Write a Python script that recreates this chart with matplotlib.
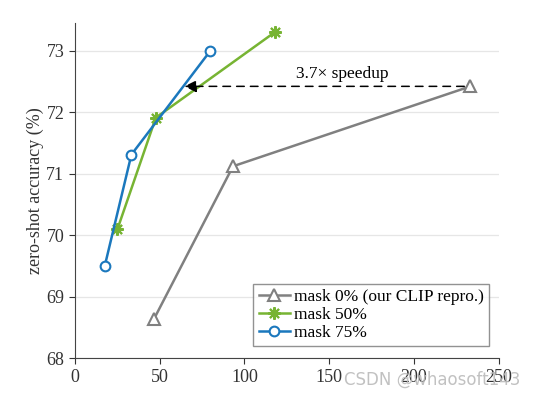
import matplotlib
matplotlib.use("Agg")
import matplotlib.pyplot as plt

plt.rcParams['font.family'] = ['Liberation Serif', 'DejaVu Serif']

# speed (x) vs zero-shot accuracy (y)
mask0_x = [46.6, 93.3, 233.3]
mask0_y = [68.63, 71.12, 72.42]
mask50_x = [25.2, 47.8, 117.9]
mask50_y = [70.1, 71.91, 73.3]
mask75_x = [17.7, 33.4, 80.0]
mask75_y = [69.5, 71.31, 73.0]

labels = ["mask 0% (our CLIP repro.)", "mask 50%", "mask 75%"]
xticks = [0, 50, 100, 150, 200, 250]
yticks = [68, 69, 70, 71, 72, 73]

fig = plt.figure(figsize=(5.34, 3.97), dpi=100)
ax = fig.add_axes([0.140, 0.098, 0.794, 0.844])

ax.plot(mask0_x, mask0_y, color="#808080", linewidth=1.8, marker="^", markersize=8,
        markerfacecolor="white", markeredgewidth=1.5, label=labels[0], zorder=3)
ax.plot(mask50_x, mask50_y, color="#77b433", linewidth=1.8, marker=(8, 2, 0), markersize=9,
        markeredgewidth=1.5, label=labels[1], zorder=3)
ax.plot(mask75_x, mask75_y, color="#1b78bd", linewidth=1.8, marker="o", markersize=7,
        markerfacecolor="white", markeredgewidth=1.5, label=labels[2], zorder=4)

# speedup arrow
ax.annotate("", xy=(63, mask0_y[2]), xytext=(mask0_x[2] - 2, mask0_y[2]),
            arrowprops=dict(arrowstyle="-|>", linestyle=(0, (5, 4)), color="black",
                            linewidth=1.1, mutation_scale=18), zorder=5)
ax.text(158, 72.49, "3.7\u00d7 speedup", ha="center", va="bottom", fontsize=12.5)

ax.set_xlim(0, 250)
ax.set_ylim(68, 73.45)
ax.set_xticks(xticks)
ax.set_yticks(yticks)
ax.tick_params(labelsize=13, direction="out", length=4, colors="#333333", labelcolor="#333333")
ax.set_ylabel("zero-shot accuracy (%)", fontsize=13, color="#333333", labelpad=2)
ax.yaxis.grid(True, color="#e6e6e6", linewidth=0.9)
ax.set_axisbelow(True)
for s in ["top", "right"]:
    ax.spines[s].set_visible(False)
for s in ["left", "bottom"]:
    ax.spines[s].set_color("#444444")

leg = ax.legend(loc="lower right", bbox_to_anchor=(0.99, 0.02), fontsize=12.5, frameon=True,
                fancybox=False, edgecolor="#777777", handlelength=1.8, handletextpad=0.25,
                labelspacing=0.1, borderpad=0.3, borderaxespad=0.3)
leg.get_frame().set_linewidth(1.0)

fig.text(0.975, 0.02, "CSDN @whaosoft143", ha="right", va="bottom", fontsize=12,
         family="DejaVu Sans", color="#bbbbbb", alpha=0.9)

fig.savefig("out.png", dpi=100)
